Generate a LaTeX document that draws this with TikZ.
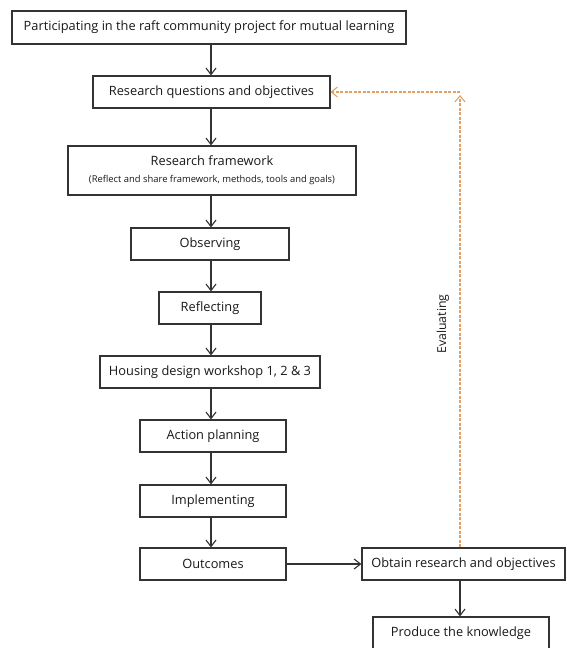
\documentclass[tikz,border=0pt]{standalone}
\usepackage{fontspec}
\setmainfont{Open Sans}
\usetikzlibrary{arrows.meta}
\definecolor{lin}{HTML}{333333}
\definecolor{evo}{HTML}{E3A064}
\begin{document}
\begin{tikzpicture}[x=1pt,y=-1pt,
  box/.style={draw=lin,line width=1.1pt,fill=white,inner sep=0pt,align=center,font=\fontsize{12.8}{14}\selectfont,text=black!90},
  flow/.style={draw=lin,line width=1.1pt,-{Straight Barb[length=6.5pt,width=10pt,line width=1.1pt]}},
  evarrow/.style={draw=evo,line width=1.1pt,dashed,dash pattern=on 3pt off 1.5pt,-{Straight Barb[length=6pt,width=10pt,line width=1.1pt]}}]
\useasboundingbox (0,0) rectangle (566,648);
\clip (0,0) rectangle (566,648);
\node[box,minimum width=394pt,minimum height=33pt] (p) at (209,27.5) {Participating in the raft community project for mutual learning};
\node[box,minimum width=237pt,minimum height=32pt] (q) at (211.5,92) {Research questions and objectives};
\node[box,minimum width=288pt,minimum height=49pt] (f) at (212,170.5) {Research framework\\[3pt]{\fontsize{9.4}{11}\selectfont (Reflect and share framework, methods, tools and goals)}};
\node[box,minimum width=158pt,minimum height=32pt] (o) at (210,244) {Observing};
\node[box,minimum width=102pt,minimum height=32pt] (r) at (210,308) {Reflecting};
\node[box,minimum width=220pt,minimum height=32pt] (h) at (210,372) {Housing design workshop 1, 2 \& 3};
\node[box,minimum width=146pt,minimum height=32pt] (a) at (213,436) {Action planning};
\node[box,minimum width=146pt,minimum height=32pt] (i) at (213,501) {Implementing};
\node[box,minimum width=146pt,minimum height=32pt] (u) at (213,564) {Outcomes};
\node[box,minimum width=203pt,minimum height=32pt] (b) at (463.5,564) {Obtain research and objectives};
\node[box,minimum width=176pt,minimum height=32pt] (k) at (461,633) {Produce the knowledge};
\coordinate (col) at (211,0);
\coordinate (evc) at (460,92);
\coordinate (evt) at (460,95);
\node[font=\fontsize{12.3}{14}\selectfont,text=black!90,rotate=90] (ev) at (443,324) {Evaluating};
\draw[flow] (p.south -| col) -- (q.north -| col);
\draw[flow] (q.south -| col) -- (f.north -| col);
\draw[flow] (f.south -| col) -- (o.north -| col);
\draw[flow] (o.south -| col) -- (r.north -| col);
\draw[flow] (r.south -| col) -- (h.north -| col);
\draw[flow] (h.south -| col) -- (a.north -| col);
\draw[flow] (a.south -| col) -- (i.north -| col);
\draw[flow] (i.south -| col) -- (u.north -| col);
\draw[flow] (u.east) -- (b.west);
\draw[flow] (b.south -| evc) -- (k.north -| evc);
\draw[evarrow] (b.north -| evc) -- (evt);
\draw[evarrow] (evc) -- (q.east);
\end{tikzpicture}
\end{document}
